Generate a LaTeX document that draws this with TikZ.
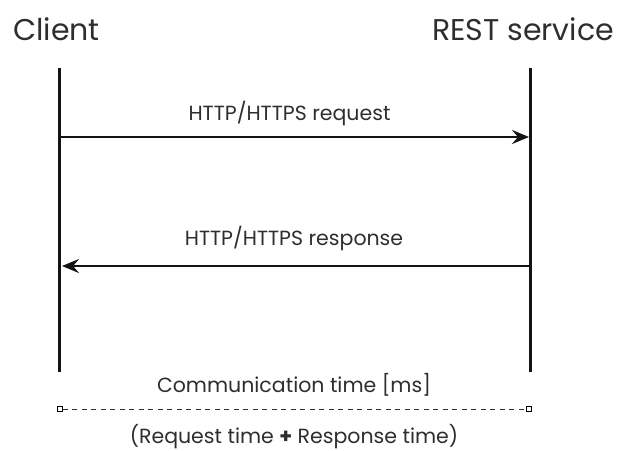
\documentclass[tikz,border=0pt]{standalone}
\usepackage{fontspec}
\setmainfont{Poppins}
\usetikzlibrary{arrows.meta}
\begin{document}
\begin{tikzpicture}[x=1pt,y=-1pt,
  lifeline/.style={line width=3pt,black!92},
  msg/.style={line width=2.6pt,black!92,-{Stealth[length=17pt,width=14pt,inset=6pt]}},
  actor/.style={font=\fontsize{30}{34}\selectfont,text=black!82,inner sep=0pt},
  msglabel/.style={font=\fontsize{20.5}{24}\selectfont,text=black!82,inner sep=0pt},
  endmark/.style={draw,line width=0.9pt,fill=white,minimum size=5pt,inner sep=0pt}]
\useasboundingbox (0,0) rectangle (617,450);
% participants
\node[actor,anchor=base] (client) at (56.5,40) {Client};
\node[actor,anchor=base] (rest) at (523,40) {REST service};
% lifelines
\coordinate (ctop) at (59,68);
\coordinate (cbot) at (59,372);
\coordinate (rtop) at (530,68);
\coordinate (rbot) at (530,372);
\draw[lifeline] (ctop) -- (cbot);
\draw[lifeline] (rtop) -- (rbot);
% messages
\coordinate (reqs) at (59,137);
\coordinate (reqe) at (529,137);
\coordinate (ress) at (530,266);
\coordinate (rese) at (62,266);
\draw[msg] (reqs) -- (reqe);
\draw[msg] (ress) -- (rese);
\node[msglabel,anchor=base] (reqlabel) at (289.5,120) {HTTP/HTTPS request};
\node[msglabel,anchor=base] (reslabel) at (294,245) {HTTP/HTTPS response};
% communication time span
\node[msglabel,anchor=base] (commlabel) at (294,392) {Communication time [ms]};
\node[endmark] (tl) at (60,409) {};
\node[endmark] (tr) at (529,409) {};
\draw[line width=1pt,black!80,dash pattern=on 5pt off 4.5pt] (tl) -- (tr);
\node[msglabel,anchor=base] (sumlabel) at (294,443) {(Request time \textbf{+} Response time)};
\end{tikzpicture}
\end{document}
